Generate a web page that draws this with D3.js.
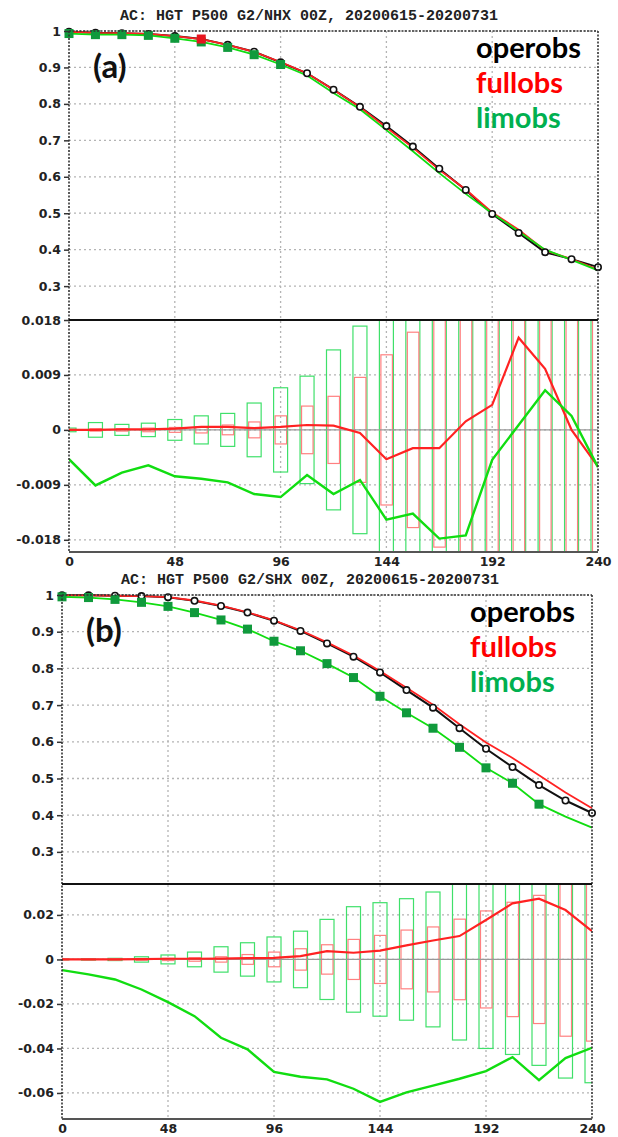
<!DOCTYPE html>
<html>
<head>
<meta charset="utf-8">
<script src="https://cdn.jsdelivr.net/npm/d3@7"></script>
<style>
  body { margin: 0; background: #fff; }
</style>
</head>
<body>
<div id="chart"></div>
<script>
// forecast hours
var hours = [0, 12, 24, 36, 48, 60, 72, 84, 96, 108, 120, 132, 144, 156, 168, 180, 192, 204, 216, 228, 240];
var xTicks = [0, 48, 96, 144, 192, 240];
var acTicks = [0.3, 0.4, 0.5, 0.6, 0.7, 0.8, 0.9, 1];
var aDiffTicks = [-0.018, -0.009, 0, 0.009, 0.018];
var bDiffTicks = [-0.06, -0.04, -0.02, 0, 0.02];
var expNames = ["operobs", "fullobs", "limobs"];

// (a) NHX anomaly correlation
var aOper = [0.998, 0.995, 0.994, 0.992, 0.986, 0.978, 0.962, 0.943, 0.914, 0.884, 0.839, 0.792, 0.739, 0.683, 0.622, 0.564, 0.498, 0.446, 0.393, 0.374, 0.352];
var aFull = [0.998, 0.995, 0.994, 0.992, 0.986, 0.978, 0.962, 0.943, 0.915, 0.884, 0.839, 0.791, 0.735, 0.680, 0.619, 0.565, 0.502, 0.455, 0.398, 0.374, 0.345];
var aLim  = [0.993, 0.990, 0.990, 0.988, 0.980, 0.970, 0.955, 0.935, 0.908, 0.878, 0.830, 0.785, 0.728, 0.670, 0.610, 0.553, 0.500, 0.450, 0.400, 0.372, 0.343];
// differences from operobs and significance box half-heights
var aDFull = [0.0, 0.0, 0.0001, 0.0001, 0.0002, 0.0005, 0.0005, 0.0003, 0.0005, 0.0008, 0.0007, -0.0005, -0.0048, -0.003, -0.003, 0.0014, 0.0041, 0.0151, 0.0100, 0.0, -0.006];
var aDLim  = [-0.0048, -0.0091, -0.007, -0.0058, -0.0076, -0.008, -0.0086, -0.0105, -0.011, -0.0074, -0.0105, -0.0082, -0.0147, -0.0137, -0.0178, -0.0173, -0.0049, 0.0008, 0.0065, 0.0023, -0.0061];
var aBoxFull = [0.0001, 0.0002, 0.0002, 0.0003, 0.0004, 0.0005, 0.0008, 0.0013, 0.0023, 0.0039, 0.0055, 0.0086, 0.0123, 0.016, 0.0192, 0.021, 0.023, 0.025, 0.027, 0.029, 0.031];
var aBoxLim  = [0.0003, 0.0012, 0.0009, 0.0011, 0.0017, 0.0023, 0.0027, 0.0044, 0.0069, 0.0088, 0.0131, 0.017, 0.021, 0.024, 0.027, 0.029, 0.032, 0.034, 0.036, 0.038, 0.040];
var aLimMarks = [0, 1, 2, 3, 4, 5, 6, 7, 8];
var aFullMarks = [5];

// (b) SHX anomaly correlation
var bOper = [0.999, 0.999, 0.998, 0.997, 0.994, 0.984, 0.970, 0.952, 0.930, 0.902, 0.868, 0.832, 0.789, 0.741, 0.693, 0.637, 0.581, 0.531, 0.482, 0.440, 0.406];
var bFull = [0.999, 0.999, 0.998, 0.997, 0.994, 0.985, 0.971, 0.953, 0.931, 0.904, 0.871, 0.835, 0.793, 0.747, 0.701, 0.648, 0.598, 0.556, 0.509, 0.462, 0.419];
var bLim  = [0.995, 0.993, 0.988, 0.980, 0.969, 0.952, 0.932, 0.907, 0.874, 0.848, 0.813, 0.775, 0.724, 0.679, 0.637, 0.585, 0.529, 0.487, 0.430, 0.396, 0.366];
var bDFull = [0.0, 0.0, 0.0, 0.0001, 0.0003, 0.0003, 0.0004, 0.0006, 0.0007, 0.0015, 0.0037, 0.003, 0.004, 0.0063, 0.0085, 0.0105, 0.0177, 0.0252, 0.0273, 0.0222, 0.0127];
var bDLim  = [-0.0048, -0.0067, -0.009, -0.0135, -0.0192, -0.0255, -0.0352, -0.0404, -0.0505, -0.0527, -0.0539, -0.0581, -0.064, -0.0597, -0.0567, -0.0536, -0.0502, -0.0439, -0.0542, -0.0443, -0.0397];
var bBoxFull = [0.0002, 0.0002, 0.0003, 0.0004, 0.0005, 0.0008, 0.0012, 0.0022, 0.0033, 0.0048, 0.0066, 0.009, 0.0108, 0.0132, 0.0146, 0.0181, 0.0218, 0.0257, 0.0288, 0.0345, 0.0367];
var bBoxLim  = [0.0002, 0.0003, 0.0005, 0.0012, 0.002, 0.0033, 0.0057, 0.0075, 0.0101, 0.0127, 0.018, 0.0237, 0.0255, 0.0273, 0.0303, 0.0362, 0.040, 0.0427, 0.0476, 0.0533, 0.0554];
var bLimMarks = [0, 1, 2, 3, 4, 5, 6, 7, 8, 9, 10, 11, 12, 13, 14, 15, 16, 17, 18];
var bFullMarks = [];

var W = 618, H = 1137;
var svg = d3.select("#chart").append("svg")
    .attr("width", W)
    .attr("height", H)
    .style("font-family", "'DejaVu Sans', sans-serif");

var GREEN = "#11dd11", RED = "#ff2222", SQ = "#109a3c";

function fmt(v) {
  if (v === 0) return "0";
  if (v === 1) return "1";
  return String(v);
}

function drawPanel(p) {
  var g = svg.append("g");
  var x = d3.scaleLinear().domain([0, 240]).range([p.left, p.right]);
  var yT = d3.scaleLinear().domain(p.acDomain).range([p.sep, p.top]);
  var yB = d3.scaleLinear().domain(p.diffDomain).range([p.bottom, p.sep]);

  // title
  g.append("text")
    .attr("x", p.titleX).attr("y", p.titleY)
    .attr("text-anchor", "middle")
    .style("font-family", "'Liberation Mono', monospace")
    .style("font-size", "15px").style("font-weight", "bold")
    .style("fill", "#222")
    .text(p.title);

  // grid lines
  var grid = g.append("g")
    .attr("stroke", "#b4b4b4").attr("stroke-width", 1.3)
    .attr("stroke-dasharray", "2,3");
  grid.selectAll(".vx").data(xTicks.slice(1, -1)).enter().append("line")
    .attr("x1", function(d) { return x(d); }).attr("x2", function(d) { return x(d); })
    .attr("y1", p.top).attr("y2", p.bottom);
  grid.selectAll(".hy").data(acTicks).enter().append("line")
    .attr("x1", p.left).attr("x2", p.right)
    .attr("y1", function(d) { return yT(d); }).attr("y2", function(d) { return yT(d); });
  grid.selectAll(".hd").data(p.diffTicks).enter().append("line")
    .attr("x1", p.left).attr("x2", p.right)
    .attr("y1", function(d) { return yB(d); }).attr("y2", function(d) { return yB(d); });

  // clip for difference panel
  var clipId = "clip" + p.id;
  svg.append("clipPath").attr("id", clipId).append("rect")
    .attr("x", p.left).attr("y", p.sep)
    .attr("width", p.right - p.left).attr("height", p.bottom - p.sep);
  var dg = g.append("g").attr("clip-path", "url(#" + clipId + ")");

  // significance boxes
  dg.selectAll(".bl").data(hours).enter().append("rect")
    .attr("x", function(d) { return x(d) - 7; })
    .attr("width", 14)
    .attr("y", function(d, i) { return yB(p.boxLim[i]); })
    .attr("height", function(d, i) { return yB(-p.boxLim[i]) - yB(p.boxLim[i]); })
    .attr("fill", "none").attr("stroke", "#3fe06a").attr("stroke-width", 1.2);
  dg.selectAll(".bf").data(hours).enter().append("rect")
    .attr("x", function(d) { return x(d) - 5.5; })
    .attr("width", 11.5)
    .attr("y", function(d, i) { return yB(p.boxFull[i]); })
    .attr("height", function(d, i) { return yB(-p.boxFull[i]) - yB(p.boxFull[i]); })
    .attr("fill", "none").attr("stroke", "#ff8080").attr("stroke-width", 1.2);

  // zero line
  dg.append("line")
    .attr("x1", p.left).attr("x2", p.right)
    .attr("y1", yB(0)).attr("y2", yB(0))
    .attr("stroke", "#999").attr("stroke-width", 1.3);

  var lineB = d3.line().x(function(d, i) { return x(hours[i]); }).y(function(d) { return yB(d); });
  dg.append("path").datum(p.dFull).attr("d", lineB)
    .attr("fill", "none").attr("stroke", RED).attr("stroke-width", 2.2);
  dg.append("path").datum(p.dLim).attr("d", lineB)
    .attr("fill", "none").attr("stroke", GREEN).attr("stroke-width", 2.4);

  // AC curves
  var lineT = d3.line().x(function(d, i) { return x(hours[i]); }).y(function(d) { return yT(d); });
  g.append("path").datum(p.oper).attr("d", lineT)
    .attr("fill", "none").attr("stroke", "#111").attr("stroke-width", 2);
  g.append("path").datum(p.full).attr("d", lineT)
    .attr("fill", "none").attr("stroke", RED).attr("stroke-width", 1.8);
  g.append("path").datum(p.lim).attr("d", lineT)
    .attr("fill", "none").attr("stroke", GREEN).attr("stroke-width", 1.8);

  g.selectAll(".mo").data(hours).enter().append("circle")
    .attr("cx", function(d) { return x(d); })
    .attr("cy", function(d, i) { return yT(p.oper[i]); })
    .attr("r", 3.2)
    .attr("fill", "#fff").attr("stroke", "#111").attr("stroke-width", 1.6);
  g.selectAll(".ml").data(p.limMarks).enter().append("rect")
    .attr("x", function(i) { return x(hours[i]) - 4.5; })
    .attr("y", function(i) { return yT(p.lim[i]) - 4.5; })
    .attr("width", 9).attr("height", 9)
    .attr("fill", SQ);
  g.selectAll(".mf").data(p.fullMarks).enter().append("rect")
    .attr("x", function(i) { return x(hours[i]) - 4.5; })
    .attr("y", function(i) { return yT(p.full[i]) - 4.5; })
    .attr("width", 9).attr("height", 9)
    .attr("fill", "#e8141e");

  // frame
  var frame = g.append("g").attr("stroke", "#333").attr("stroke-width", 1.6)
    .attr("stroke-dasharray", "2,1.5");
  frame.append("line").attr("x1", p.left).attr("x2", p.left).attr("y1", p.top).attr("y2", p.bottom);
  frame.append("line").attr("x1", p.right).attr("x2", p.right).attr("y1", p.top).attr("y2", p.bottom);
  frame.append("line").attr("x1", p.left).attr("x2", p.right).attr("y1", p.top).attr("y2", p.top);
  g.append("line").attr("x1", p.left).attr("x2", p.right).attr("y1", p.bottom).attr("y2", p.bottom)
    .attr("stroke", "#555").attr("stroke-width", 2);
  g.append("line").attr("x1", p.left).attr("x2", p.right).attr("y1", p.sep).attr("y2", p.sep)
    .attr("stroke", "#111").attr("stroke-width", 2.2);

  // y axes
  var axT = g.append("g").attr("transform", "translate(" + p.left + ",0)")
    .call(d3.axisLeft(yT).tickValues(acTicks).tickSize(5).tickPadding(3).tickFormat(fmt));
  var axB = g.append("g").attr("transform", "translate(" + p.left + ",0)")
    .call(d3.axisLeft(yB).tickValues(p.diffTicks).tickSize(5).tickPadding(3).tickFormat(fmt));
  var axX = g.append("g").attr("transform", "translate(0," + p.bottom + ")")
    .call(d3.axisBottom(x).tickValues(xTicks).tickSize(0).tickPadding(5));
  [axT, axB, axX].forEach(function(a) {
    a.select(".domain").remove();
    a.selectAll("line").attr("stroke", "#333").attr("stroke-width", 1.5);
    a.selectAll("text")
      .style("font-family", "'DejaVu Sans', sans-serif")
      .style("font-size", "12.5px").style("font-weight", "bold")
      .attr("fill", "#222");
  });

  // panel label and legend
  g.append("text").attr("x", p.left + 24).attr("y", p.top + 47)
    .style("font-family", "Lato, sans-serif").style("font-size", "33px")
    .style("font-weight", "bold").attr("fill", "#111")
    .text(p.label);
  var legColors = ["#000", "#ff0000", "#00b050"];
  g.selectAll(".leg").data(expNames).enter().append("text")
    .attr("x", p.legendX)
    .attr("y", function(d, i) { return p.top + p.legendDY[i]; })
    .style("font-family", "Lato, sans-serif").style("font-size", "29px")
    .style("font-weight", "bold")
    .attr("fill", function(d, i) { return legColors[i]; })
    .text(function(d) { return d; });
}

drawPanel({
  id: "a", title: "AC: HGT P500 G2/NHX 00Z, 20200615-20200731", label: "(a)",
  titleX: 309, titleY: 20,
  left: 69, right: 598, top: 31, sep: 320, bottom: 552,
  acDomain: [0.207, 1], diffDomain: [-0.02, 0.018], diffTicks: aDiffTicks,
  oper: aOper, full: aFull, lim: aLim,
  dFull: aDFull, dLim: aDLim, boxFull: aBoxFull, boxLim: aBoxLim,
  limMarks: aLimMarks, fullMarks: aFullMarks,
  legendX: 476, legendDY: [27, 62, 97]
});

drawPanel({
  id: "b", title: "AC: HGT P500 G2/SHX 00Z, 20200615-20200731", label: "(b)",
  titleX: 310, titleY: 584,
  left: 62, right: 592, top: 595, sep: 884, bottom: 1119,
  acDomain: [0.2125, 1], diffDomain: [-0.0717, 0.0339], diffTicks: bDiffTicks,
  oper: bOper, full: bFull, lim: bLim,
  dFull: bDFull, dLim: bDLim, boxFull: bBoxFull, boxLim: bBoxLim,
  limMarks: bLimMarks, fullMarks: bFullMarks,
  legendX: 470, legendDY: [27, 62, 97]
});
</script>
</body>
</html>
